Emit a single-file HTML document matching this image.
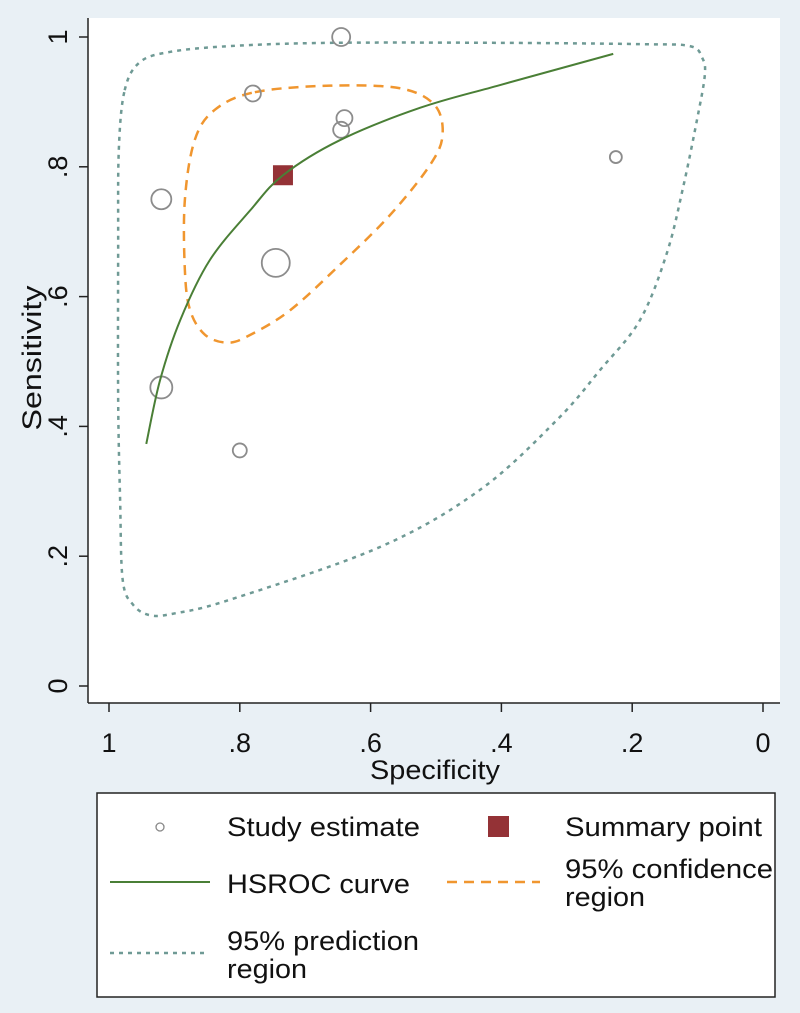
<!DOCTYPE html>
<html><head><meta charset="utf-8"><style>
html,body{margin:0;padding:0;background:#e9f0f5;}
svg{display:block;font-family:"Liberation Sans",Arial,sans-serif;}
</style></head><body>
<svg width="800" height="1013" viewBox="0 0 800 1013">
<rect x="0" y="0" width="800" height="1013" fill="#e9f0f5"/>
<rect x="88" y="18" width="692" height="685" fill="#ffffff"/>
<g id="marks"></g>
<line x1="88" y1="18" x2="88" y2="703" stroke="#222" stroke-width="1.5"/>
<line x1="88" y1="703" x2="780" y2="703" stroke="#222" stroke-width="1.5"/>
<g id="axes"></g>
<text x="435" y="779" font-size="27" text-anchor="middle" textLength="130" lengthAdjust="spacingAndGlyphs" fill="#111">Specificity</text>
<text transform="translate(41,358) rotate(-90)" font-size="27" text-anchor="middle" textLength="145" lengthAdjust="spacingAndGlyphs" fill="#111">Sensitivity</text>
<g>
<rect x="97" y="793" width="678" height="204" fill="#fff" stroke="#222" stroke-width="1.5"/>
<circle cx="160" cy="827" r="4" fill="none" stroke="#888" stroke-width="1.3"/>
<text x="227" y="836" font-size="27" textLength="193" lengthAdjust="spacingAndGlyphs" fill="#111">Study estimate</text>
<rect x="488" y="816" width="21" height="21" fill="#943236"/>
<text x="565" y="836" font-size="27" textLength="197" lengthAdjust="spacingAndGlyphs" fill="#111">Summary point</text>
<line x1="110" y1="882" x2="210" y2="882" stroke="#4a7f36" stroke-width="2"/>
<text x="227" y="893" font-size="27" textLength="183" lengthAdjust="spacingAndGlyphs" fill="#111">HSROC curve</text>
<line x1="447" y1="882" x2="540" y2="882" stroke="#f0962f" stroke-width="2.5" stroke-dasharray="10,7"/>
<text x="565" y="878" font-size="27" textLength="208" lengthAdjust="spacingAndGlyphs" fill="#111">95% confidence</text>
<text x="565" y="906" font-size="27" textLength="80" lengthAdjust="spacingAndGlyphs" fill="#111">region</text>
<line x1="110" y1="953" x2="205" y2="953" stroke="#6f9a95" stroke-width="2.5" stroke-dasharray="4,5"/>
<text x="227" y="950" font-size="27" textLength="192" lengthAdjust="spacingAndGlyphs" fill="#111">95% prediction</text>
<text x="227" y="978" font-size="27" textLength="80" lengthAdjust="spacingAndGlyphs" fill="#111">region</text>
</g>
</svg>
<script>
const xTicks = [1, 0.8, 0.6, 0.4, 0.2, 0];
const xTickLabels = ["1", ".8", ".6", ".4", ".2", "0"];
const yTicks = [0, 0.2, 0.4, 0.6, 0.8, 1];
const yTickLabels = ["0", ".2", ".4", ".6", ".8", "1"];
const studySpec = [0.645, 0.78, 0.64, 0.645, 0.92, 0.745, 0.92, 0.80, 0.225];
const studySens = [1.0, 0.913, 0.875, 0.857, 0.75, 0.652, 0.46, 0.363, 0.815];
const studySize = [9, 8, 8, 8, 10, 14, 11, 7, 6];
const summarySpec = 0.734;
const summarySens = 0.787;
const hsrocSpec = [0.943, 0.922, 0.891, 0.846, 0.784, 0.734, 0.647, 0.524, 0.402, 0.229];
const hsrocSens = [0.373, 0.471, 0.564, 0.656, 0.733, 0.787, 0.841, 0.891, 0.926, 0.974];
const confSpec = [0.777, 0.662, 0.555, 0.502, 0.490, 0.509, 0.570, 0.647, 0.723, 0.784, 0.818, 0.853, 0.876, 0.884, 0.884, 0.869, 0.838];
const confSens = [0.915, 0.925, 0.921, 0.895, 0.849, 0.803, 0.726, 0.649, 0.579, 0.541, 0.529, 0.541, 0.579, 0.641, 0.749, 0.841, 0.888];
const predSpec = [0.976, 0.953, 0.907, 0.815, 0.662, 0.402, 0.188, 0.112, 0.093, 0.089, 0.101, 0.122, 0.147, 0.188, 0.249, 0.315, 0.433, 0.586, 0.815, 0.899, 0.937, 0.963, 0.979, 0.983, 0.986, 0.986, 0.985];
const predSens = [0.918, 0.961, 0.977, 0.986, 0.991, 0.991, 0.989, 0.986, 0.968, 0.941, 0.872, 0.769, 0.667, 0.564, 0.487, 0.410, 0.302, 0.214, 0.133, 0.112, 0.109, 0.125, 0.163, 0.287, 0.441, 0.672, 0.826];

const NS = "http://www.w3.org/2000/svg";
function X(s){ return 109 + (1 - s) * 654; }
function Y(v){ return 686 - v * 649; }
function mk(tag, attrs, parent){ const e = document.createElementNS(NS, tag); for (const k in attrs) e.setAttribute(k, attrs[k]); parent.appendChild(e); return e; }
function smooth(xs, ys, closed){
  const n = xs.length; const P = i => { if (closed) i = (i + n) % n; else i = Math.max(0, Math.min(n - 1, i)); return [X(xs[i]), Y(ys[i])]; };
  let d = "M" + P(0).join(",");
  const segs = closed ? n : n - 1;
  for (let i = 0; i < segs; i++){
    const p0 = P(i - 1), p1 = P(i), p2 = P(i + 1), p3 = P(i + 2);
    const c1 = [p1[0] + (p2[0] - p0[0]) / 6, p1[1] + (p2[1] - p0[1]) / 6];
    const c2 = [p2[0] - (p3[0] - p1[0]) / 6, p2[1] - (p3[1] - p1[1]) / 6];
    d += " C" + c1.join(",") + " " + c2.join(",") + " " + p2.join(",");
  }
  return d + (closed ? " Z" : "");
}
const axes = document.getElementById("axes");
const marks = document.getElementById("marks");
xTicks.forEach((t, i) => {
  const tl = mk("line", {x1: X(t), y1: 703, x2: X(t), y2: 712, stroke: "#222", "stroke-width": 1.5}, axes);
  
  
  const tx = mk("text", {x: X(t), y: 752, "font-size": 27, "text-anchor": "middle", fill: "#111"}, axes);
  tx.textContent = xTickLabels[i];
  
  
});
yTicks.forEach((t, i) => {
  const tl = mk("line", {x1: 79, y1: Y(t), x2: 88, y2: Y(t), stroke: "#222", "stroke-width": 1.5}, axes);
  
  
  const tx = mk("text", {transform: "translate(67," + Y(t) + ") rotate(-90)", "font-size": 27, "text-anchor": "middle", fill: "#111"}, axes);
  tx.textContent = yTickLabels[i];
  
  
});
const pred = mk("path", {d: smooth(predSpec, predSens, true), fill: "none", stroke: "#6f9a95", "stroke-width": 2.5, "stroke-dasharray": "4,5"}, marks);


const conf = mk("path", {d: smooth(confSpec, confSens, true), fill: "none", stroke: "#f0962f", "stroke-width": 2.5, "stroke-dasharray": "10,7"}, marks);


studySpec.forEach((s, i) => {
  const c = mk("circle", {cx: X(s), cy: Y(studySens[i]), r: studySize[i], fill: "none", stroke: "#8c8c8c", "stroke-width": 1.8}, marks);
  
  
});
const sq = mk("rect", {x: X(summarySpec) - 10, y: Y(summarySens) - 10, width: 20, height: 20, fill: "#943236"}, marks);


const h = mk("path", {d: smooth(hsrocSpec, hsrocSens, false), fill: "none", stroke: "#4a7f36", "stroke-width": 2}, marks);


</script>
</body></html>
